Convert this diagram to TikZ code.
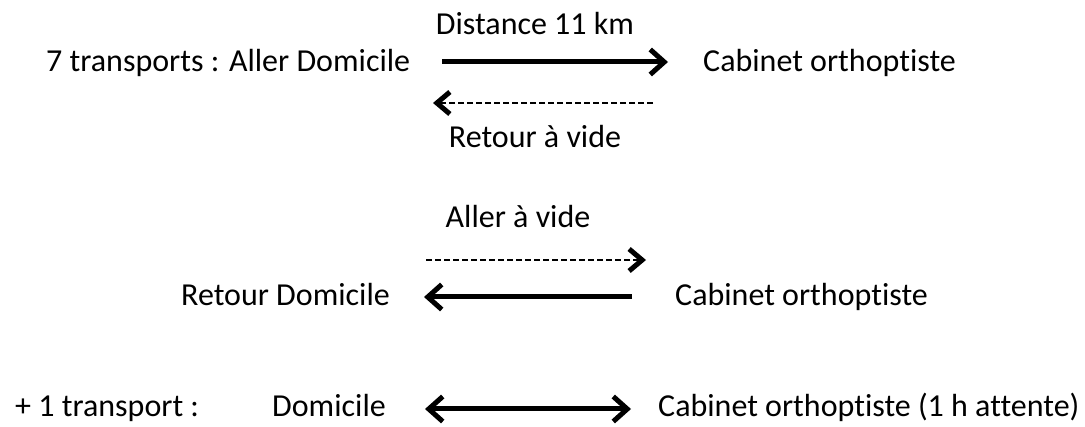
\documentclass[tikz,border=0pt]{standalone}
\usepackage{fontspec}
\setmainfont[Ligatures={NoCommon}]{Carlito}
\usetikzlibrary{arrows.meta}
\usetikzlibrary{positioning}

\tikzset{
  txt/.style={inner sep=0pt, anchor=base west, font=\fontsize{32}{38}\selectfont},
  full/.style={line width=5pt, -{Straight Barb[length=14pt, width=25pt, line width=5pt]}},
  both/.style={line width=5pt, {Straight Barb[length=14pt, width=25pt, line width=5pt]}-{Straight Barb[length=14pt, width=25pt, line width=5pt]}},
  empty/.style={line width=2.5pt, dash pattern=on 6pt off 3pt, -{Straight Barb[length=13pt, width=22pt, line width=5pt]}}
}

\begin{document}
\begin{tikzpicture}[x=1pt, y=-1pt]
  \useasboundingbox (0,0) rectangle (1085,427);

  % first round trip
  \node[txt] (aller) at (46,72) {7 transports : Aller Domicile};
  \node[txt] (cab1) at (703,72) {Cabinet orthoptiste};
  \node[txt, anchor=base] (dist) at (535,35) {Distance 11 km};
  \node[txt, anchor=base] (retvide) at (535,148) {Retour à vide};
  \coordinate (a1s) at (442,62);
  \coordinate (a1e) at (668,62);
  \coordinate (r1s) at (653,103);
  \coordinate (r1e) at (433,103);
  \draw[full] (a1s) -- (a1e);
  \draw[empty] (r1s) -- (r1e);

  % second round trip
  \node[txt, anchor=base] (allvide) at (518,228) {Aller à vide};
  \node[txt] (retour) at (181,306) {Retour Domicile};
  \node[txt] (cab2) at (675,306) {Cabinet orthoptiste};
  \coordinate (a2s) at (426,260);
  \coordinate (a2e) at (646,260);
  \coordinate (r2s) at (632,297);
  \coordinate (r2e) at (424,297);
  \draw[empty] (a2s) -- (a2e);
  \draw[full] (r2s) -- (r2e);

  % extra transport
  \node[txt] (plus) at (15,417) {+ 1 transport :};
  \node[txt] (dom) at (272,417) {Domicile};
  \node[txt] (cab3) at (658,417) {Cabinet orthoptiste (1 h attente)};
  \coordinate (d1) at (425,409);
  \coordinate (d2) at (631,409);
  \draw[both] (d1) -- (d2);
\end{tikzpicture}
\end{document}
